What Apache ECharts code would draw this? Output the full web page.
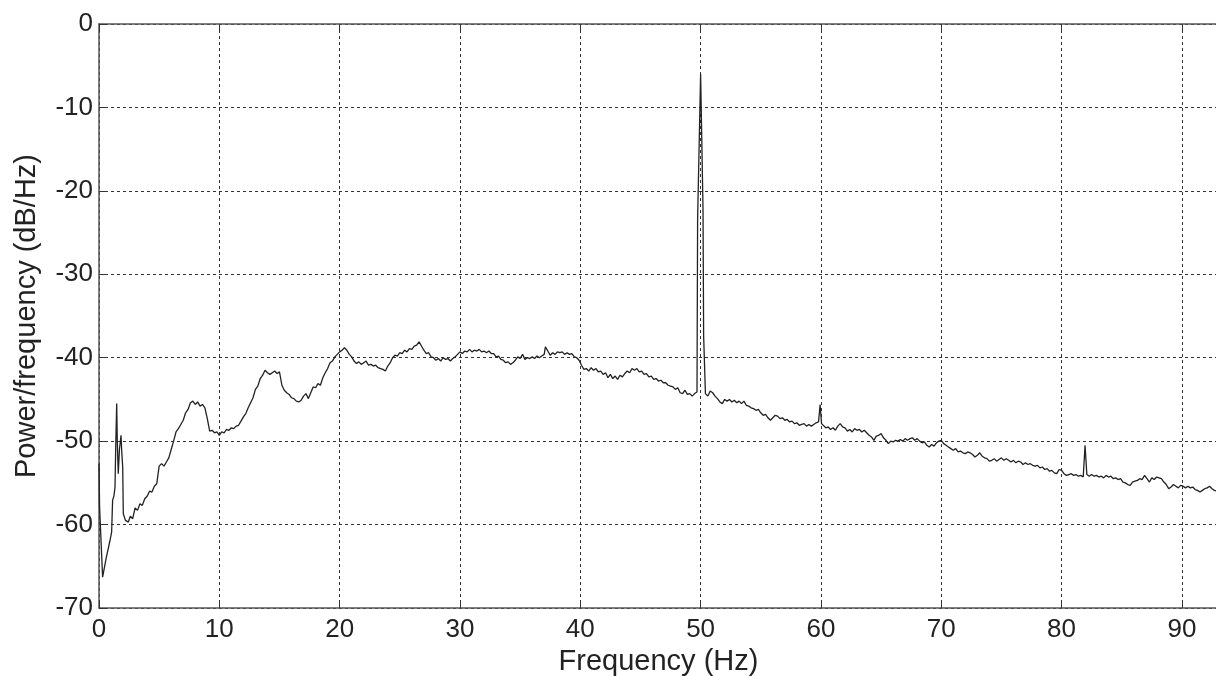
<!DOCTYPE html>
<html>
<head>
<meta charset="utf-8">
<script src="https://cdn.jsdelivr.net/npm/echarts@6/dist/echarts.min.js"></script>
<style>html,body{margin:0;padding:0;background:#fff;}#c{width:1216px;height:676px;}</style>
</head>
<body>
<div id="c"></div>
<script>
// [frequency (Hz), power/frequency (dB/Hz)]
const band0to10 = [
[0.0,-52.7],[0.05,-58],[0.3,-66.3],[0.6,-64],[0.9,-62],[1.05,-60.9],[1.13,-57.1],[1.25,-56.5],[1.33,-55.5],[1.4,-50],
[1.47,-45.5],[1.52,-50],[1.6,-53.9],[1.7,-51],[1.83,-49.3],[1.9,-51.5],[1.97,-53.1],[2.02,-58.7],[2.2,-59.5],[2.44,-59.7],
[2.6,-59.0],[2.8,-59.3],[3.0,-58.0],[3.2,-58.3],[3.4,-57.5],[3.6,-57.7],[3.8,-56.9],[4.0,-56.6],[4.2,-56.0],[4.4,-56.1],
[4.6,-55.4],[4.8,-55.1],[5.0,-53.0],[5.2,-52.7],[5.4,-53.0],[5.6,-52.5],[5.8,-52.0],[6.0,-51.0],[6.2,-50.0],[6.4,-48.9],
[6.6,-48.5],[6.8,-48.0],[7.0,-47.5],[7.2,-46.6],[7.4,-46.2],[7.6,-45.4],[7.8,-45.2],[8.0,-45.6],[8.2,-45.3],[8.4,-45.8],
[8.6,-45.6],[8.8,-46.0],[9.0,-47.3],[9.2,-48.8],[9.4,-48.7],[9.6,-49.0],[9.8,-48.9]
];
const band10to30 = [
[10.0,-49.3],[10.2,-48.9],[10.4,-49.0],[10.6,-48.6],[10.8,-48.7],[11.0,-48.4],[11.2,-48.5],[11.4,-48.2],[11.6,-48.1],[11.8,-47.6],
[12.0,-47.1],[12.2,-46.7],[12.4,-46.0],[12.6,-45.4],[12.8,-44.8],[13.0,-43.8],[13.2,-43.4],[13.4,-42.5],[13.6,-42.1],[13.8,-41.5],
[14.0,-41.8],[14.2,-42.0],[14.4,-41.8],[14.6,-41.6],[14.8,-41.9],[15.0,-41.7],[15.2,-43.3],[15.4,-43.9],[15.6,-44.2],[15.8,-44.4],
[16.0,-44.8],[16.2,-44.9],[16.4,-45.2],[16.6,-45.3],[16.8,-45.1],[17.0,-44.6],[17.2,-44.3],[17.4,-44.9],[17.6,-44.2],[17.8,-43.5],
[18.0,-43.6],[18.2,-43.1],[18.4,-43.3],[18.6,-42.4],[18.8,-41.8],[19.0,-41.3],[19.2,-40.6],[19.4,-40.4],[19.6,-39.9],[19.8,-39.6],
[20.0,-39.3],[20.2,-39.1],[20.4,-38.8],[20.6,-39.1],[20.8,-39.6],[21.0,-39.9],[21.2,-40.4],[21.4,-40.7],[21.6,-40.5],[21.8,-40.8],
[22.0,-40.6],[22.2,-40.4],[22.4,-40.9],[22.6,-40.8],[22.8,-41.0],[23.0,-40.9],[23.2,-41.2],[23.4,-41.3],[23.6,-41.4],[23.8,-41.6],
[24.0,-41.0],[24.2,-40.6],[24.4,-40.0],[24.6,-39.7],[24.8,-39.8],[25.0,-39.4],[25.2,-39.5],[25.4,-39.1],[25.6,-39.3],[25.8,-38.9],
[26.0,-39.0],[26.2,-38.6],[26.4,-38.5],[26.6,-38.1],[26.8,-38.6],[27.0,-39.1],[27.2,-39.5],[27.4,-39.4],[27.6,-39.9],[27.8,-40.0],
[28.0,-40.3],[28.2,-40.1],[28.4,-40.4],[28.6,-40.0],[28.8,-40.2],[29.0,-40.1],[29.2,-40.4],[29.4,-40.1],[29.6,-39.9],[29.8,-39.6]
];
const band30to50 = [
[30.0,-39.3],[30.2,-39.5],[30.4,-39.2],[30.6,-39.3],[30.8,-39.0],[31.0,-39.3],[31.2,-39.1],[31.4,-39.2],[31.6,-39.0],[31.8,-39.3],
[32.0,-39.2],[32.2,-39.4],[32.4,-39.2],[32.6,-39.5],[32.8,-39.5],[33.0,-39.9],[33.2,-39.8],[33.4,-40.2],[33.6,-40.3],[33.8,-40.6],
[34.0,-40.5],[34.2,-40.8],[34.4,-40.6],[34.6,-40.3],[34.8,-39.9],[35.0,-40.1],[35.2,-39.6],[35.4,-40.2],[35.6,-40.0],[35.8,-40.1],
[36.0,-39.9],[36.2,-40.1],[36.4,-39.8],[36.6,-40.0],[36.8,-39.8],[37.0,-39.6],[37.1,-38.7],[37.3,-39.2],[37.5,-39.7],[37.7,-39.4],
[37.9,-39.6],[38.1,-39.3],[38.3,-39.4],[38.5,-39.3],[38.7,-39.6],[38.9,-39.4],[39.1,-39.6],[39.3,-39.5],[39.5,-39.9],[39.7,-40.0],
[39.9,-40.3],[40.1,-40.9],[40.3,-41.4],[40.5,-41.3],[40.7,-41.6],[40.9,-41.2],[41.1,-41.5],[41.3,-41.3],[41.5,-41.7],[41.7,-41.6],
[41.9,-42.0],[42.1,-41.8],[42.3,-42.4],[42.5,-42.0],[42.7,-42.5],[42.9,-42.2],[43.1,-42.6],[43.3,-42.1],[43.5,-42.3],[43.7,-41.9],
[43.9,-41.6],[44.1,-41.8],[44.3,-41.3],[44.5,-41.5],[44.7,-41.3],[44.9,-41.7],[45.1,-41.6],[45.3,-42.0],[45.5,-41.9],[45.7,-42.3],
[45.9,-42.2],[46.1,-42.6],[46.3,-42.5],[46.5,-42.8],[46.7,-42.7],[46.9,-43.0],[47.1,-43.0],[47.3,-43.3],[47.5,-43.4],[47.7,-43.5],
[47.9,-43.8],[48.1,-43.6],[48.3,-44.2],[48.5,-44.3],[48.7,-43.9],[48.9,-44.4],[49.1,-44.3],[49.3,-44.6],[49.5,-44.3],[49.7,-44.1],
[49.75,-23.5],[50.0,-6.0],[50.2,-22.3],[50.25,-37.3],[50.4,-44.3]
];
const band50to70 = [
[50.6,-44.6],[50.8,-44.0],[51.0,-44.2],[51.2,-44.6],[51.4,-44.9],[51.6,-45.3],[51.8,-45.5],[52.0,-45.0],
[52.2,-45.2],[52.4,-45.0],[52.6,-45.3],[52.8,-45.1],[53.0,-45.4],[53.2,-45.2],[53.4,-45.5],[53.6,-45.2],[53.8,-45.7],[54.0,-45.8],
[54.2,-46.0],[54.4,-46.1],[54.6,-46.3],[54.8,-46.2],[55.0,-46.6],[55.2,-46.9],[55.4,-46.8],[55.6,-47.2],[55.8,-47.5],[56.0,-47.2],
[56.2,-46.9],[56.4,-47.0],[56.6,-47.3],[56.8,-47.2],[57.0,-47.5],[57.2,-47.4],[57.4,-47.7],[57.6,-47.6],[57.8,-47.9],[58.0,-47.8],
[58.2,-48.1],[58.4,-48.0],[58.6,-47.9],[58.8,-48.2],[59.0,-48.0],[59.2,-48.2],[59.4,-48.0],[59.6,-47.8],[59.8,-47.7],[59.93,-45.6],
[60.05,-47.9],[60.2,-48.0],[60.4,-48.4],[60.6,-48.3],[60.8,-48.6],[61.0,-48.4],[61.2,-48.7],[61.4,-48.2],[61.6,-47.9],[61.8,-48.3],
[62.0,-48.4],[62.2,-48.8],[62.4,-48.6],[62.6,-48.9],[62.8,-48.5],[63.0,-48.7],[63.2,-48.6],[63.4,-48.9],[63.6,-48.7],[63.8,-49.0],
[64.0,-49.3],[64.2,-49.5],[64.4,-49.9],[64.6,-49.4],[64.8,-49.3],[65.0,-49.1],[65.2,-49.6],[65.4,-49.9],[65.6,-50.3],[65.8,-50.0],
[66.0,-50.1],[66.2,-49.9],[66.4,-50.0],[66.6,-49.8],[66.8,-50.0],[67.0,-49.7],[67.2,-49.9],[67.4,-49.7],[67.6,-49.6],[67.8,-49.9],
[68.0,-49.7],[68.2,-50.0],[68.4,-50.2],[68.6,-50.1],[68.8,-50.5],[69.0,-50.7],[69.2,-50.4],[69.4,-50.6],[69.6,-50.2],[69.8,-50.0]
];
const band70to93 = [
[70.0,-49.9],[70.2,-50.3],[70.4,-50.5],[70.6,-50.7],[70.8,-50.9],[71.0,-51.1],[71.2,-50.9],[71.4,-51.3],[71.6,-51.2],[71.8,-51.4],
[72.0,-51.5],[72.2,-51.3],[72.4,-51.4],[72.6,-51.6],[72.8,-51.9],[73.0,-51.7],[73.2,-51.4],[73.4,-51.8],[73.6,-52.0],[73.8,-52.1],
[74.0,-52.4],[74.2,-52.3],[74.4,-52.1],[74.6,-52.4],[74.8,-52.2],[75.0,-52.0],[75.2,-52.3],[75.4,-52.1],[75.6,-52.3],[75.8,-52.5],
[76.0,-52.3],[76.2,-52.6],[76.4,-52.4],[76.6,-52.5],[76.8,-52.8],[77.0,-52.6],[77.2,-52.8],[77.4,-52.7],[77.6,-52.9],[77.8,-53.0],
[78.0,-52.9],[78.2,-53.2],[78.4,-53.1],[78.6,-53.4],[78.8,-53.3],[79.0,-53.6],[79.2,-53.5],[79.4,-53.8],[79.6,-53.9],[79.8,-53.4],
[80.0,-53.5],[80.2,-53.9],[80.4,-54.1],[80.6,-54.0],[80.8,-53.9],[81.0,-54.1],[81.2,-54.0],[81.4,-54.2],[81.6,-54.1],[81.8,-54.3],
[81.95,-50.5],[82.1,-54.0],[82.3,-54.2],[82.5,-54.0],[82.7,-54.2],[82.9,-54.1],[83.1,-54.3],[83.3,-54.2],[83.5,-54.4],[83.7,-54.1],
[83.9,-54.3],[84.1,-54.2],[84.3,-54.5],[84.5,-54.4],[84.7,-54.6],[84.9,-54.5],[85.1,-54.9],[85.3,-55.0],[85.5,-55.2],[85.7,-55.3],
[85.9,-54.9],[86.1,-54.8],[86.3,-54.7],[86.5,-54.5],[86.7,-54.6],[86.9,-54.1],[87.1,-54.5],[87.3,-54.9],[87.5,-54.4],[87.7,-54.6],
[87.9,-54.3],[88.1,-54.4],[88.3,-54.5],[88.5,-54.9],[88.7,-55.2],[88.9,-55.7],[89.1,-55.5],[89.3,-55.2],[89.5,-55.4],[89.7,-55.6],
[89.9,-55.3],[90.1,-55.4],[90.3,-55.6],[90.5,-55.4],[90.7,-55.6],[90.9,-55.5],[91.1,-55.8],[91.3,-55.9],[91.5,-56.1],[91.7,-55.9],
[91.9,-55.7],[92.1,-55.6],[92.3,-55.4],[92.5,-55.7],[92.7,-55.9],[92.9,-56.0],[93.0,-55.8]
];
const xTicks = [0,10,20,30,40,50,60,70,80,90];
const yTicks = [0,-10,-20,-30,-40,-50,-60,-70];

const points = [].concat(band0to10, band10to30, band30to50, band50to70, band70to93);
const font = 'Liberation Sans, Arial, sans-serif';
const gridStyle = {type: [3, 3], color: '#333', width: 1};
const chart = echarts.init(document.getElementById('c'), null, {renderer: 'canvas'});
chart.setOption({
  animation: false,
  backgroundColor: '#fff',
  grid: {left: 99, top: 24, right: -2, bottom: 68, show: false, outerBoundsMode: 'none', containLabel: false},
  xAxis: [{
    type: 'value', min: 0, max: 93, interval: 10,
    name: 'Frequency (Hz)', nameLocation: 'middle', nameGap: 38,
    nameTextStyle: {fontFamily: font, fontSize: 29, color: '#222'},
    axisLine: {show: true, onZero: false, lineStyle: {color: '#555', width: 1.5}},
    axisTick: {show: true, inside: true, length: 8, lineStyle: {color: '#333'}},
    axisLabel: {fontFamily: font, fontSize: 26, color: '#222', margin: 9, showMaxLabel: false,
      formatter: v => xTicks.includes(v) ? String(v) : ''},
    splitLine: {show: true, lineStyle: gridStyle}
  }, {
    type: 'value', position: 'top', min: 0, max: 93, interval: 10,
    axisLine: {show: true, lineStyle: {color: '#555', width: 1.5}},
    axisTick: {show: true, inside: true, length: 8, lineStyle: {color: '#333'}},
    axisLabel: {show: false}, splitLine: {show: false}
  }],
  yAxis: {
    type: 'value', min: -70, max: 0, interval: 10,
    name: 'Power/frequency (dB/Hz)', nameLocation: 'middle', nameGap: 58,
    nameTextStyle: {fontFamily: font, fontSize: 29, color: '#222'},
    axisLine: {show: true, lineStyle: {color: '#555', width: 1.5}},
    axisTick: {show: true, inside: true, length: 8, lineStyle: {color: '#333'}},
    axisLabel: {fontFamily: font, fontSize: 26, color: '#222', margin: 6,
      formatter: v => yTicks.includes(v) ? String(v) : ''},
    splitLine: {show: true, lineStyle: gridStyle}
  },
  series: [{
    type: 'line', data: points, xAxisIndex: 0, showSymbol: false, symbol: 'none',
    lineStyle: {color: '#222', width: 1.3}, clip: true
  }]
});
</script>
</body>
</html>
